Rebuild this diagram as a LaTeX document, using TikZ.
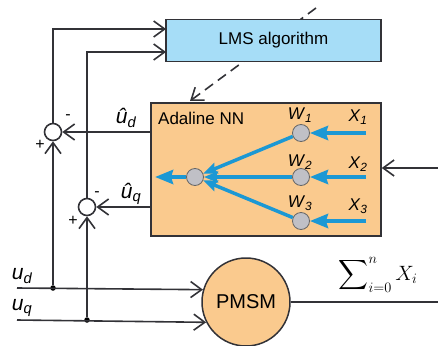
\documentclass[tikz,border=0pt]{standalone}
\usepackage{fontspec}
\usepackage{amsmath}
\setmainfont{Liberation Sans}
\usetikzlibrary{arrows.meta}
\definecolor{orfill}{RGB}{250,202,142}
\definecolor{lmsfill}{RGB}{166,221,247}
\definecolor{edge}{RGB}{50,50,55}
\definecolor{nnblue}{RGB}{28,152,212}
\definecolor{nodegray}{RGB}{192,192,198}
\newcommand{\ilab}[2]{\textit{#1}$_{\text{\itshape #2}}$}
\begin{document}
\begin{tikzpicture}[x=1pt,y=-1pt,
  wire/.style={draw=edge, line width=1.6pt},
  tip/.tip={Straight Barb[length=11pt,width=16pt,line width=1.6pt]},
  arr/.style={wire, -tip},
  blk/.style={draw=edge, line width=1.5pt},
  junc/.style={circle, draw=edge, line width=1.6pt, fill=white, minimum size=17pt, inner sep=0pt},
  gnode/.style={circle, draw=gray!80!black, line width=0.8pt, fill=nodegray, minimum size=17pt, inner sep=0pt},
  barr/.style={nnblue, line width=4.5pt, -{Stealth[length=18pt,width=14pt,inset=2pt]}},
  barrthin/.style={nnblue, line width=3.5pt, -{Stealth[length=14pt,width=11pt,inset=2pt]}},
  dotn/.style={circle, fill=black, minimum size=5.5pt, inner sep=0pt},
  lbl/.style={inner sep=0pt, font=\fontsize{21}{23}\selectfont},
  wlbl/.style={inner sep=0pt, font=\fontsize{17}{19}\selectfont},
  sgn/.style={inner sep=0pt, font=\fontsize{16}{18}\selectfont}
]
\useasboundingbox (0,0) rectangle (438,345);

% dashed arrow behind LMS box
\coordinate (dstart) at (316,8);
\coordinate (dend) at (190,101);
\draw[wire, dash pattern=on 10pt off 6pt, -tip] (dstart) -- (dend);

% blocks
\node[blk, fill=lmsfill, minimum width=215pt, minimum height=42pt, inner sep=0pt] (lms) at (273.5,40.5) {\fontsize{17}{19}\selectfont LMS algorithm};
\node[blk, fill=orfill, minimum width=230pt, minimum height=133pt, inner sep=0pt] (ada) at (266,169.5) {};
\node[anchor=west, inner sep=0pt, font=\fontsize{17}{19}\selectfont] (adatxt) at (158,118) {Adaline NN};
\node[circle, blk, fill=orfill, minimum size=88pt, inner sep=0pt] (pmsm) at (246,302) {\fontsize{20}{22}\selectfont PMSM};

% Adaline internals
\node[gnode] (out) at (195,177) {};
\node[gnode] (w1) at (301,133) {};
\node[gnode] (w2) at (301,177) {};
\node[gnode] (w3) at (301,221) {};
\node[wlbl] (w1l) at (300,115) {\ilab{W}{1}};
\node[wlbl] (w2l) at (300,162) {\ilab{W}{2}};
\node[wlbl] (w3l) at (300,203) {\ilab{W}{3}};
\node[wlbl] (x1l) at (358,117) {\ilab{X}{1}};
\node[wlbl] (x2l) at (358,164) {\ilab{X}{2}};
\node[wlbl] (x3l) at (358,206) {\ilab{X}{3}};
\coordinate (x1) at (366,133);
\coordinate (x2) at (366,177);
\coordinate (x3) at (366,221);
\coordinate (yout) at (155,177);
\draw[barr] (x1) -- (w1);
\draw[barr] (x2) -- (w2);
\draw[barr] (x3) -- (w3);
\draw[barrthin] (w1) -- (out);
\draw[barrthin] (w2) -- (out);
\draw[barrthin] (w3) -- (out);
\draw[barr] (out) -- (yout);

% summing junctions
\node[junc] (s1) at (53,132) {};
\node[junc] (s2) at (87,207) {};
\node[sgn] (s1m) at (68,117) {-};
\node[sgn] (s1p) at (40,145) {+};
\node[sgn] (s2m) at (97,194) {-};
\node[sgn] (s2p) at (73,221) {+};

% estimated outputs
\draw[arr] (ada.west |- s1) -- (s1);
\draw[arr] (ada.west |- s2) -- (s2);
\node[lbl] (udh) at (126,118) {\textit{\^u}$_{\text{\itshape d}}$};
\node[lbl] (uqh) at (131,194) {\textit{\^u}$_{\text{\itshape q}}$};

% errors to LMS
\coordinate (l1) at (166,29);
\coordinate (l2) at (166,52);
\draw[arr] (s1) |- (l1);
\draw[arr] (s2) |- (l2);

% inputs
\coordinate (ud0) at (17,288);
\coordinate (uq0) at (17,320);
\node[dotn] (d1) at (53,288) {};
\node[dotn] (d2) at (87,320) {};
\node[lbl] (udl) at (22,276) {\ilab{u}{d}};
\node[lbl] (uql) at (22,308) {\ilab{u}{q}};
\draw[arr] (ud0) -- (pmsm.164);
\draw[arr] (uq0) -- (pmsm.207);
\draw[arr] (d1) -- (s1);
\draw[arr] (d2) -- (s2);

% output and feedback
\coordinate (pout) at (438,302);
\coordinate (xin) at (438,168);
\draw[wire] (pmsm.east) -- (pout);
\draw[arr] (xin) -- (xin -| ada.east);
\node[inner sep=0pt, font=\fontsize{22}{24}\selectfont] (sum) at (378,275) {$\displaystyle\sum\nolimits_{i=0}^{n} X_i$};
\end{tikzpicture}
\end{document}
